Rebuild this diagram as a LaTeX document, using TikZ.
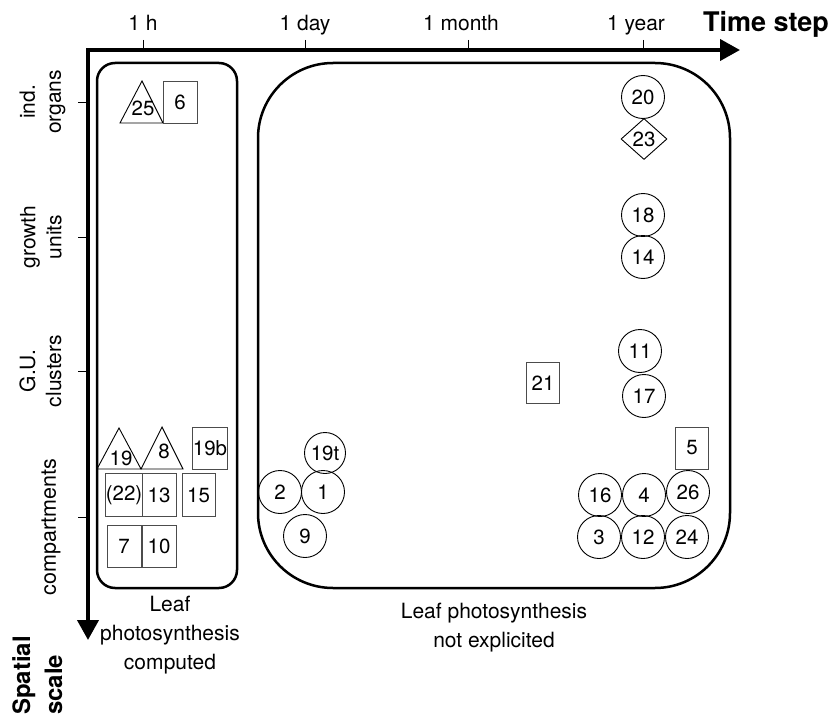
\documentclass[tikz,border=0pt]{standalone}
\usepackage{fontspec}
\setmainfont{TeX Gyre Heros}
\usetikzlibrary{arrows.meta,shapes.geometric}
\tikzset{
  lbl/.style={font=\fontsize{21}{26}\selectfont, inner sep=0pt},
  captxt/.style={font=\fontsize{21}{29}\selectfont, inner sep=0pt, align=center},
  boldtxt/.style={font=\fontsize{27}{31}\selectfont\bfseries, inner sep=0pt},
  num/.style={font=\fontsize{20.5}{22}\selectfont, inner sep=0pt},
  circ/.style={num, draw, circle, minimum size=43pt, line width=0.9pt},
  sq/.style={num, draw=black!70, rectangle, minimum width=34pt, minimum height=42pt, line width=0.9pt},
  dia/.style={num, draw, diamond, minimum width=46pt, minimum height=41pt, line width=0.9pt},
  tri/.style={draw, line width=0.9pt, line join=miter},
  grp/.style={draw, line width=2.5pt},
  axis/.style={line width=4pt, line join=miter, {Triangle[length=20pt,width=21pt]}-{Triangle[length=20pt,width=21pt]}},
  tickmark/.style={line width=1pt}
}
\begin{document}
\begin{tikzpicture}[x=1pt,y=-1pt]
\useasboundingbox (0,0) rectangle (833,717);

% axes
\coordinate (origin) at (88,50);
\coordinate (xend) at (740,50);
\coordinate (yend) at (88,640);
\draw[axis] (xend) -- (origin) -- (yend);

% top ticks and labels
\foreach \x in {143,305,468,643}{
  \draw[tickmark] (\x,40) -- (\x,50);
}
\node[lbl, anchor=base] (th) at (143,31) {1 h};
\node[lbl, anchor=base] (td) at (305,31) {1 day};
\node[lbl, anchor=base] (tm) at (461,31) {1 month};
\node[lbl, anchor=base] (ty) at (636,31) {1 year};
\node[boldtxt, anchor=base] (tstep) at (766,32) {Time step};

% left ticks and labels
\foreach \y in {102,237,371,517}{
  \draw[tickmark] (78,\y) -- (88,\y);
}
\node[lbl, rotate=90, align=center] (lorg) at (42.5,102) {ind.\\organs};
\node[lbl, rotate=90, align=center] (lgu) at (41,237) {growth\\units};
\node[lbl, rotate=90, align=center] (lcl) at (40.5,371) {G.U.\\clusters};
\node[lbl, font=\fontsize{21.5}{26}\selectfont, rotate=90] (lcomp) at (51,527) {compartments};
\node[inner sep=0pt, font=\fontsize{24}{32}\selectfont\bfseries, rotate=90, align=left, anchor=north west] (lsp) at (12,715) {Spatial\\scale};

% groups
\draw[grp, rounded corners=18pt] (97,63) rectangle (237,588);
\draw[grp, rounded corners=75pt] (258,63) rectangle (730,588);

\node[captxt] (capl) at (170,635.5) {Leaf\\photosynthesis\\computed};
\node[captxt] (capr) at (494,627.5) {Leaf photosynthesis\\not explicited};

% left group items
\draw[tri] (120,123) -- (142,81) -- (163,123) -- cycle;
\node[num] (t25) at (143,108) {25};
\node[sq] (s6) at (180,102) {6};

\draw[tri] (97,469) -- (119,428) -- (141,469) -- cycle;
\node[num] (t19) at (121,458) {19};
\draw[tri] (141,469) -- (162,427) -- (183,469) -- cycle;
\node[num] (t8) at (164,451) {8};
\node[sq, minimum width=33pt] (s19b) at (210,448) {19b};
\node[sq, minimum height=43pt] (s22) at (124,495) {(22)};
\node[sq, minimum height=43pt] (s13) at (159,495) {13};
\node[sq, minimum width=33pt, minimum height=43pt] (s15) at (198.5,495) {15};
\node[sq] (s7) at (124,546) {7};
\node[sq] (s10) at (159,546) {10};

% right group items
\node[circ] (c20) at (643,97) {20};
\node[dia] (d23) at (644,139) {23};
\node[circ] (c18) at (643,215) {18};
\node[circ] (c14) at (643,257) {14};
\node[circ] (c11) at (640,351) {11};
\node[circ] (c17) at (644,396) {17};
\node[sq, minimum width=33pt, minimum height=41pt] (s21) at (543,383) {21};
\node[sq, minimum width=33pt] (s5) at (692,448) {5};
\node[circ] (c16) at (600,495) {16};
\node[circ] (c4) at (644,495) {4};
\node[circ] (c26) at (688,492) {26};
\node[circ] (c3) at (599,537) {3};
\node[circ] (c12) at (643,537) {12};
\node[circ] (c24) at (687,537) {24};
\node[circ, minimum size=41pt] (c19t) at (325,453) {19t};
\node[circ] (c2) at (280,492) {2};
\node[circ] (c1) at (323,492) {1};
\node[circ] (c9) at (305,536) {9};
\end{tikzpicture}
\end{document}
